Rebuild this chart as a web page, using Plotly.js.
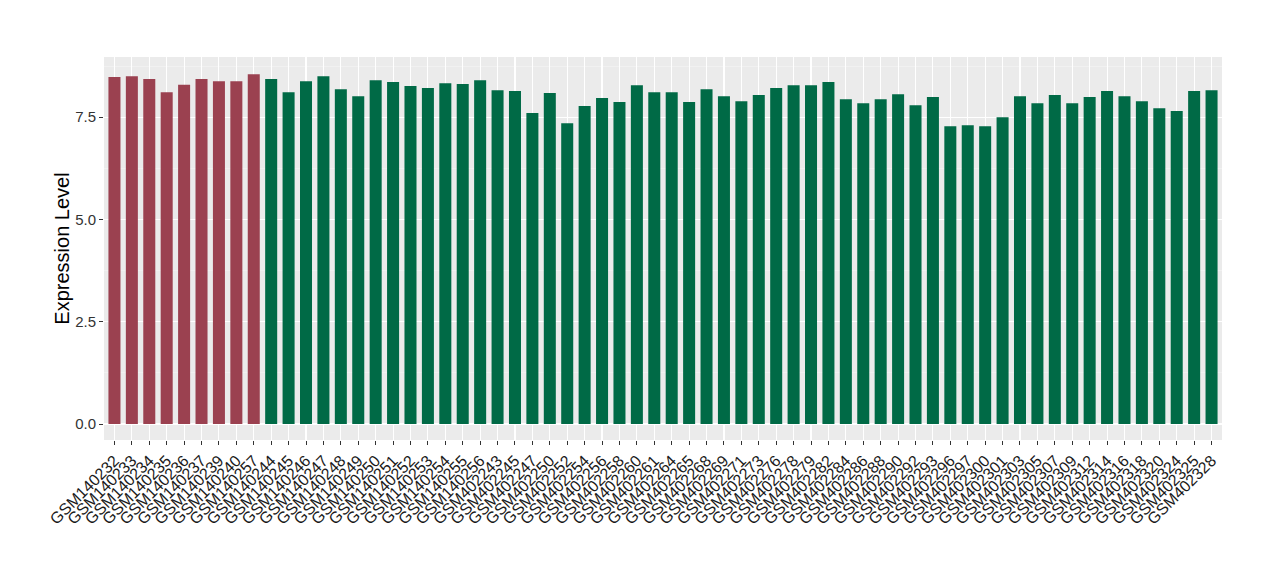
<!DOCTYPE html>
<html>
<head>
<meta charset="utf-8">
<script src="https://cdn.plot.ly/plotly-3.0.1.min.js"></script>
<style>html,body{margin:0;padding:0;background:#fff;}#chart{width:1280px;height:580px;}</style>
</head>
<body>
<div id="chart"></div>
<script>
const samples = ["GSM140232","GSM140233","GSM140234","GSM140235","GSM140236","GSM140237","GSM140239","GSM140240","GSM140257",
"GSM140244","GSM140245","GSM140246","GSM140247","GSM140248","GSM140249","GSM140250","GSM140251","GSM140252","GSM140253","GSM140254","GSM140255","GSM140256",
"GSM402243","GSM402245","GSM402247","GSM402250","GSM402252","GSM402254","GSM402256","GSM402258","GSM402260","GSM402261","GSM402264","GSM402265","GSM402268","GSM402269","GSM402271","GSM402273","GSM402276","GSM402278","GSM402279","GSM402282","GSM402284","GSM402286","GSM402288","GSM402290","GSM402292","GSM402293","GSM402296","GSM402297","GSM402300","GSM402301","GSM402303","GSM402305","GSM402307","GSM402309","GSM402312","GSM402314","GSM402316","GSM402318","GSM402320","GSM402324","GSM402325","GSM402328"];
const values = [8.48,8.50,8.43,8.11,8.29,8.43,8.38,8.38,8.55,
8.43,8.11,8.38,8.50,8.18,8.01,8.40,8.36,8.26,8.21,8.33,8.31,8.40,
8.16,8.14,7.60,8.09,7.35,7.77,7.97,7.87,8.28,8.11,8.11,7.87,8.18,8.01,7.89,8.04,8.21,8.28,8.28,8.36,7.94,7.84,7.94,8.06,7.79,7.99,7.28,7.30,7.28,7.50,8.01,7.84,8.04,7.84,7.99,8.14,8.01,7.89,7.72,7.65,8.14,8.16];
const groupSizeA = 9;
const colorA = "#9b4150";
const colorB = "#006a46";
const yTicks = [0, 2.5, 5, 7.5];
const yTickText = ["0.0", "2.5", "5.0", "7.5"];

const colors = samples.map((s, i) => i < groupSizeA ? colorA : colorB);

const trace = {
  type: "bar",
  x: samples,
  y: values,
  marker: {color: colors, line: {width: 0}},
  hoverinfo: "x+y"
};

const layout = {
  width: 1280, height: 580,
  margin: {l: 104, r: 58, t: 57, b: 140},
  paper_bgcolor: "#ffffff",
  plot_bgcolor: "#ebebeb",
  bargap: 0.31,
  showlegend: false,
  font: {family: "Liberation Sans, Arial, sans-serif", color: "#000"},
  xaxis: {
    type: "category",
    range: [-0.6, samples.length - 0.4],
    tickmode: "array",
    tickvals: samples,
    ticktext: samples,
    tickangle: -45,
    tickfont: {size: 16, color: "#1a1a1a"},
    showgrid: true, gridcolor: "#ffffff", gridwidth: 1.1,
    ticks: "outside", ticklen: 4, tickcolor: "#333333", tickwidth: 1,
    zeroline: false, showline: false,
    automargin: false,
    fixedrange: true
  },
  yaxis: {
    range: [-0.39, 8.97],
    tickvals: yTicks,
    ticktext: yTickText,
    tickfont: {size: 15, color: "#333333"},
    showgrid: true, gridcolor: "#ffffff", gridwidth: 1.1,
    minor: {tickvals: [1.25, 3.75, 6.25, 8.75], showgrid: true, gridcolor: "#f5f5f5", gridwidth: 0.6, ticks: ""},
    ticks: "outside", ticklen: 4, tickcolor: "#333333", tickwidth: 1,
    zeroline: false, showline: false,
    automargin: false,
    title: {text: "Expression Level", font: {size: 20, color: "#000"}, standoff: 0},
    fixedrange: true
  }
};

Plotly.newPlot("chart", [trace], layout, {displayModeBar: false, staticPlot: true});
</script>
</body>
</html>
